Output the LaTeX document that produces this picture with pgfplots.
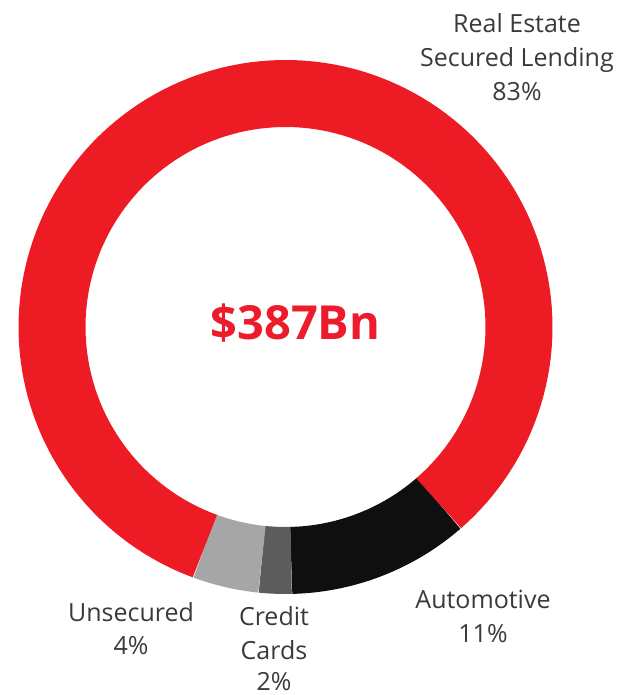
\documentclass[border=0pt]{standalone}
\usepackage{fontspec}
\setmainfont{Open Sans}
\usepackage{pgfplots}
\usepackage{pgfplotstable}
\pgfplotsset{compat=1.18}
\definecolor{ringred}{HTML}{ED1C24}
\definecolor{ringblack}{HTML}{0F0F0F}
\definecolor{ringdark}{HTML}{5C5C5C}
\definecolor{ringlight}{HTML}{A6A6A6}
\definecolor{centerred}{HTML}{EC1C2D}
\definecolor{labelgray}{HTML}{3A3A3A}

\pgfplotstableread{
seg pct
Automotive 11
CreditCards 2
Unsecured 4
RealEstate 83
}\shares

\begin{document}
\begin{tikzpicture}
\useasboundingbox (0,0) rectangle (621pt,695pt);
\pgfplotstablegetelem{0}{pct}\of\shares \let\pa\pgfplotsretval
\pgfplotstablegetelem{1}{pct}\of\shares \let\pb\pgfplotsretval
\pgfplotstablegetelem{2}{pct}\of\shares \let\pc\pgfplotsretval
\pgfplotstablegetelem{3}{pct}\of\shares \let\pd\pgfplotsretval
\pgfmathsetmacro\aA{-49}
\pgfmathsetmacro\aB{\aA-3.6*\pa}
\pgfmathsetmacro\aC{\aB-3.6*\pb}
\pgfmathsetmacro\aD{\aC-3.6*\pc}
\pgfmathsetmacro\aE{\aD-3.6*\pd}
\begin{axis}[
  at={(0,0)}, anchor=south west,
  scale only axis, width=621pt, height=695pt,
  xmin=0, xmax=621, ymin=0, ymax=695,
  hide axis, clip=false,
  every axis plot/.append style={no markers, line cap=butt, line join=round, line width=67pt},
]
\addplot[ringblack, domain=\aB:\aA, samples=40, variable=\t] ({285.5+233.5*cos(\t)},{368+233.5*sin(\t)});
\addplot[ringdark, domain=\aC:\aB, samples=10, variable=\t] ({285.5+233.5*cos(\t)},{368+233.5*sin(\t)});
\addplot[ringlight, domain=\aD:\aC, samples=12, variable=\t] ({285.5+233.5*cos(\t)},{368+233.5*sin(\t)});
\addplot[ringred, domain=\aE:\aD, samples=150, variable=\t] ({285.5+233.5*cos(\t)},{368+233.5*sin(\t)});

\node[anchor=base, text=centerred, font=\fontsize{47}{50}\selectfont\bfseries] at (axis cs:295.5,355) {\$387Bn};

\begin{scope}[every node/.style={anchor=base, text=labelgray, font=\fontsize{25}{30}\selectfont}]
\node at (axis cs:517,662) {Real Estate};
\node at (axis cs:517,628) {Secured Lending};
\node at (axis cs:517,594) {83\%};
\node at (axis cs:483,86) {Automotive};
\node at (axis cs:483,52) {11\%};
\node at (axis cs:131,73) {Unsecured};
\node at (axis cs:131,40) {4\%};
\node at (axis cs:274,69) {Credit};
\node at (axis cs:274,35) {Cards};
\node at (axis cs:274,5) {2\%};
\end{scope}
\end{axis}
\end{tikzpicture}
\end{document}
